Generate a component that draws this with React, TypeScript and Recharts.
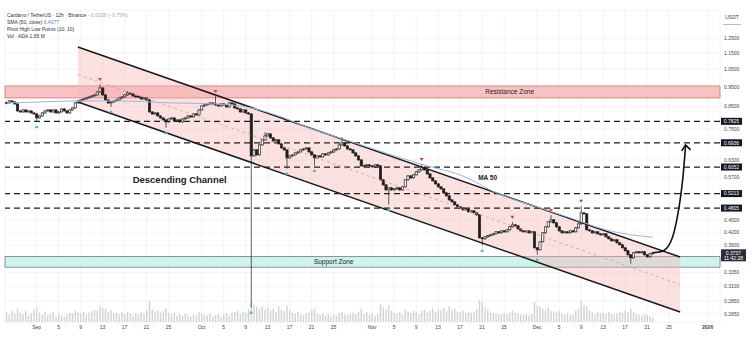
import React from 'react';
import {
  ComposedChart,
  Bar,
  Line,
  Area,
  XAxis,
  YAxis,
  CartesianGrid,
  ReferenceLine,
  ReferenceArea,
  ReferenceDot,
} from 'recharts';

// 12h candles, row 0 = Aug 26 12:00, rows run on to Jan 3 so the right side has room
const ROWS = 260;
const firstOpen = 0.87;

const closes = [
  0.8677, 0.8775, 0.8726, 0.8629, 0.8296, 0.825, 0.8343, 0.825, 0.8296, 0.8203,
  0.8157, 0.7976, 0.8066, 0.8203, 0.8296, 0.8343, 0.825, 0.8343, 0.8203, 0.825,
  0.839, 0.8296, 0.8203, 0.8343, 0.8437, 0.8677, 0.8775, 0.8825, 0.8874, 0.8924,
  0.8974, 0.9025, 0.9076, 0.923, 0.944, 0.9076, 0.8825, 0.8677, 0.8726, 0.8775,
  0.8825, 0.8924, 0.8974, 0.9076, 0.9178, 0.9127, 0.9025, 0.901, 0.8974, 0.8874,
  0.8924, 0.8825, 0.825, 0.8157, 0.8203, 0.8066, 0.7976, 0.7887, 0.7799, 0.7931,
  0.7976, 0.7843, 0.7887, 0.7799, 0.7931, 0.7976, 0.8066, 0.8021, 0.8157, 0.8112,
  0.8343, 0.8532, 0.858, 0.8629, 0.8677, 0.8629, 0.858, 0.8532, 0.8629, 0.858,
  0.8484, 0.8677, 0.8629, 0.8437, 0.839, 0.825, 0.8343, 0.8203, 0.8157, 0.6443,
  0.6664, 0.648, 0.6854, 0.7049, 0.7209, 0.7291, 0.7129, 0.701, 0.7049, 0.6892,
  0.6739, 0.6664, 0.6371, 0.6443, 0.648, 0.6552, 0.6589, 0.6664, 0.6701, 0.6739,
  0.6589, 0.648, 0.6371, 0.6443, 0.6407, 0.6516, 0.648, 0.6552, 0.6589, 0.6664,
  0.6701, 0.6854, 0.6931, 0.6815, 0.6701, 0.6664, 0.6552, 0.6443, 0.63, 0.6092,
  0.611, 0.6126, 0.6092, 0.6058, 0.6126, 0.6092, 0.5631, 0.5475, 0.5323, 0.5384,
  0.5323, 0.5353, 0.5384, 0.5323, 0.5414, 0.5631, 0.5759, 0.5694, 0.5791, 0.589,
  0.5956, 0.6024, 0.5956, 0.5824, 0.5694, 0.5599, 0.5506, 0.5414, 0.5353, 0.5234,
  0.5147, 0.5032, 0.4976, 0.4893, 0.4838, 0.4811, 0.4758, 0.4784, 0.4705, 0.4731,
  0.4678, 0.4626, 0.4066, 0.4043, 0.4088, 0.4112, 0.4135, 0.4158, 0.4205, 0.4181,
  0.4228, 0.4205, 0.4252, 0.4324, 0.4373, 0.4349, 0.4276, 0.4228, 0.4205, 0.4228,
  0.4181, 0.4205, 0.3844, 0.3801, 0.3975, 0.4181, 0.4324, 0.4448, 0.4498, 0.4423,
  0.4324, 0.4228, 0.4181, 0.4205, 0.4181, 0.4228, 0.4205, 0.43, 0.4398, 0.4678,
  0.4652, 0.4252, 0.4228, 0.4181, 0.4205, 0.4158, 0.4135, 0.4158, 0.4088, 0.4043,
  0.3998, 0.402, 0.3953, 0.3909, 0.3844, 0.378, 0.3695, 0.3634, 0.3738, 0.3759,
  0.3738, 0.3759, 0.3695, 0.3654, 0.3717, 0.3737,
];

// volume, million ADA
const volumes = [
  95, 70, 110, 80, 130, 90, 75, 105, 60, 85,
  120, 140, 90, 70, 100, 65, 80, 95, 55, 75,
  60, 50, 70, 90, 85, 110, 95, 80, 100, 70,
  90, 105, 120, 110, 150, 135, 125, 95, 110, 85,
  90, 70, 95, 75, 100, 80, 60, 85, 70, 95,
  75, 110, 200, 120, 100, 115, 90, 105, 130, 85,
  70, 90, 60, 75, 55, 80, 65, 50, 70, 60,
  95, 85, 70, 60, 80, 55, 65, 75, 50, 70,
  85, 60, 90, 95, 110, 80, 100, 90, 120, 190,
  170, 150, 130, 150, 120, 140, 110, 130, 95, 150,
  120, 105, 160, 115, 90, 80, 100, 75, 65, 85,
  95, 110, 130, 80, 70, 85, 60, 75, 55, 70,
  60, 85, 95, 70, 65, 80, 90, 75, 100, 130,
  80, 95, 70, 85, 60, 75, 170, 140, 120, 160,
  110, 90, 80, 95, 70, 120, 100, 85, 110, 95,
  80, 105, 120, 90, 110, 130, 100, 120, 115, 140,
  105, 150, 115, 130, 100, 95, 110, 85, 100, 90,
  95, 120, 210, 190, 140, 120, 100, 90, 80, 75,
  70, 85, 75, 95, 110, 90, 80, 70, 65, 75,
  60, 80, 190, 160, 150, 130, 120, 140, 110, 100,
  90, 105, 80, 70, 85, 60, 75, 110, 130, 200,
  160, 150, 110, 95, 80, 100, 85, 90, 75, 95,
  80, 70, 85, 100, 90, 110, 95, 130, 100, 80,
  70, 60, 75, 65, 55, 40,
];

// wicks that stick out past the body
const wickHigh: Record<number, number> = {
  34: 0.96, 44: 0.923, 76: 0.8974, 94: 0.7332, 122: 0.7129,
  151: 0.6126, 184: 0.4423, 198: 0.46, 209: 0.4838,
};
const wickLow: Record<number, number> = {
  11: 0.7843, 38: 0.8532, 58: 0.7583, 89: 0.276, 102: 0.6024,
  112: 0.6126, 139: 0.492, 173: 0.3909, 193: 0.3717, 227: 0.3533,
};

const pivotHighIdx = [34, 76, 151, 184, 198, 209];
const pivotLowIdx = [11, 38, 58, 89, 102, 112, 139, 173, 193];

// SMA 50
const maPoints: Record<number, number> = {
  0: 0.8677, 12: 0.8726, 26: 0.8775, 41: 0.8775, 60: 0.8677, 76: 0.8629,
  89: 0.8437, 101: 0.7976, 110: 0.754, 120: 0.7169, 129: 0.6854, 140: 0.648,
  153: 0.6092, 165: 0.5791, 179: 0.5205, 194: 0.4811, 205: 0.4549, 218: 0.4252,
  235: 0.4077,
};

const channelUpper: Record<number, number> = { 26: 1.188, 245: 0.365 };
const channelLower: Record<number, number> = { 26: 0.872, 245: 0.268 };
const channelMid: Record<number, number> = { 26: 1.0178, 245: 0.3128 };

const arrowPath: Record<number, number> = {
  235: 0.3737, 238: 0.3759, 241: 0.3909, 243: 0.4252, 245: 0.5032, 246: 0.5694, 247: 0.6854,
};

const levels = [0.7825, 0.6936, 0.6052, 0.5213, 0.4805];
const resistance = [0.8926, 0.9546];
const support = [0.3446, 0.366];
const lastPrice = 0.3737;
const lastTime = '11:42:28';

const priceTicks = [1.25, 1.15, 1.05, 0.95, 0.85, 0.75, 0.63, 0.57, 0.45, 0.42, 0.39, 0.335, 0.31, 0.285, 0.265];
const dateTickIdx = [11, 19, 27, 35, 43, 51, 59, 71, 79, 87, 95, 103, 111, 119, 133, 141, 149, 157, 165, 173, 181, 193, 201, 209, 217, 225, 233, 241, 255];
const dateTickText = ['Sep', '5', '9', '13', '17', '21', '25', 'Oct', '5', '9', '13', '17', '21', '25', 'Nov', '5', '9', '13', '17', '21', '25', 'Dec', '5', '9', '13', '17', '21', '25', '2026'];

const data = Array.from({ length: ROWS }, (_, i) => {
  const row: any = { i };
  if (i < closes.length) {
    const o = i === 0 ? firstOpen : closes[i - 1];
    const c = closes[i];
    row.o = o;
    row.c = c;
    row.h = wickHigh[i] ?? Math.max(o, c);
    row.l = wickLow[i] ?? Math.min(o, c);
    row.v = volumes[i];
    if (pivotHighIdx.includes(i)) row.ph = row.h;
    if (pivotLowIdx.includes(i)) row.pl = row.l;
  }
  if (maPoints[i] != null) row.ma = maPoints[i];
  if (channelUpper[i] != null) {
    row.chU = channelUpper[i];
    row.chL = channelLower[i];
    row.chM = channelMid[i];
    row.band = [channelLower[i], channelUpper[i]];
  }
  if (arrowPath[i] != null) row.arrow = arrowPath[i];
  return row;
});

const INK = '#1e1e1e';

const Candle = (props: any) => {
  const { x, y, width, height, payload } = props;
  if (!payload || payload.c == null || !isFinite(y) || !isFinite(height)) return <g />;
  const { o, h, l, c } = payload;
  const top = Math.min(y, y + height);
  const bot = Math.max(y, y + height);
  const span = Math.log(h) - Math.log(l);
  const py = (v: number) => (span === 0 ? top : top + ((bot - top) * (Math.log(h) - Math.log(v))) / span);
  const cx = x + width / 2;
  const yo = py(o);
  const yc = py(c);
  const bt = Math.min(yo, yc);
  const bh = Math.max(Math.abs(yo - yc), 1);
  const up = c >= o;
  return (
    <g>
      <line x1={cx} x2={cx} y1={top - 0.8} y2={Math.max(bot, bt + bh) + 0.8} stroke={INK} strokeWidth={0.7} />
      <rect x={cx - 1.1} y={bt} width={2.2} height={bh} fill={up ? '#fff' : INK} stroke={INK} strokeWidth={0.7} />
    </g>
  );
};

const VolBar = (props: any) => {
  const { x, y, width, height, payload } = props;
  if (!payload || payload.v == null || !isFinite(height)) return <g />;
  return <rect x={x + width / 2 - 0.7} y={y} width={1.4} height={height} fill="#d2d2d2" />;
};

const PivotHigh = (props: any) => {
  const { cx, cy, value, index } = props;
  if (value == null || cy == null || !isFinite(cy)) return <g key={`ph${index}`} />;
  const t = cy - 4;
  return <path key={`ph${index}`} d={`M${cx - 2} ${t - 3} L${cx + 2} ${t - 3} L${cx} ${t} Z`} fill="#e53935" />;
};

const PivotLow = (props: any) => {
  const { cx, cy, value, index } = props;
  if (value == null || cy == null || !isFinite(cy)) return <g key={`pl${index}`} />;
  const t = cy + 4;
  return <path key={`pl${index}`} d={`M${cx - 2} ${t + 3} L${cx + 2} ${t + 3} L${cx} ${t} Z`} fill="#3cc2a6" />;
};

const ArrowHead = (props: any) => {
  const { cx, cy, index } = props;
  if (index !== 247 || cy == null) return <g key={`ah${index}`} />;
  return (
    <path
      key={`ah${index}`}
      d={`M${cx - 4} ${cy + 6} L${cx} ${cy} L${cx + 5} ${cy + 5}`}
      stroke="#111"
      strokeWidth={1.6}
      fill="none"
    />
  );
};

const LevelTag = ({ viewBox, text }: any) => {
  if (!viewBox) return null;
  const x = viewBox.x + viewBox.width + 1;
  const y = viewBox.y;
  return (
    <g>
      <rect x={x} y={y - 3.5} width={21} height={7} fill="#131722" />
      <text x={x + 10.5} y={y + 1.8} textAnchor="middle" fontSize={5} fill="#fff">
        {text}
      </text>
    </g>
  );
};

const PriceTag = ({ viewBox }: any) => {
  if (!viewBox) return null;
  const x = viewBox.x + viewBox.width + 1;
  const y = viewBox.y;
  return (
    <g>
      <rect x={x} y={y - 3.5} width={25} height={12} fill="#2a2e39" />
      <text x={x + 12.5} y={y + 1.8} textAnchor="middle" fontSize={5} fill="#fff">
        {lastPrice.toFixed(4)}
      </text>
      <text x={x + 12.5} y={y + 7.2} textAnchor="middle" fontSize={5} fill="#fff">
        {lastTime}
      </text>
    </g>
  );
};

const Ann = ({ viewBox, text, size, bold }: any) => {
  if (!viewBox) return null;
  return (
    <text
      x={viewBox.x + viewBox.width / 2}
      y={viewBox.y + viewBox.height / 2}
      dy="0.35em"
      textAnchor="middle"
      fontSize={size}
      fontWeight={bold ? 700 : 400}
      fill="#222"
    >
      {text}
    </text>
  );
};

const DateTick = ({ x, y, payload }: any) => {
  const label = dateTickText[dateTickIdx.indexOf(payload.value)];
  return (
    <text x={x} y={y + 7} textAnchor="middle" fontSize={5} fill="#444" fontWeight={label === '2026' ? 700 : 400}>
      {label}
    </text>
  );
};

export default function App() {
  return (
    <div
      style={{
        position: 'relative',
        width: 752,
        height: 358,
        background: '#fff',
        fontFamily: '"Liberation Sans", Arial, sans-serif',
      }}
    >
      <style>{'body{margin:0}'}</style>
      <ComposedChart
        width={752}
        height={358}
        data={data}
        margin={{ top: 10, right: 0, left: 5, bottom: 24 }}
        barCategoryGap={0}
        barGap={0}
      >
        <CartesianGrid xAxisId="p" yAxisId="p" stroke="#f1f1f1" strokeWidth={0.8} />
        <XAxis
          xAxisId="p"
          dataKey="i"
          type="category"
          ticks={dateTickIdx}
          interval={0}
          tick={<DateTick />}
          tickLine={false}
          axisLine={false}
          tickSize={0}
          tickMargin={0}
          height={12}
        />
        <XAxis xAxisId="v" dataKey="i" type="category" hide />
        <YAxis
          yAxisId="p"
          orientation="right"
          scale="log"
          domain={[0.2533, 1.463]}
          allowDataOverflow
          ticks={priceTicks}
          interval={0}
          tickFormatter={(v: number) => v.toFixed(4)}
          tick={{ fontSize: 5, fill: '#444', textAnchor: 'start' }}
          tickLine={false}
          axisLine={false}
          tickSize={0}
          tickMargin={4}
          width={32}
        />
        <YAxis yAxisId="v" hide domain={[0, 3000]} />

        <ReferenceArea
          xAxisId="p"
          yAxisId="p"
          y1={resistance[0]}
          y2={resistance[1]}
          fill="#f7c2c2"
          fillOpacity={1}
          stroke="#e06b6b"
          strokeWidth={0.8}
        />
        <ReferenceArea
          xAxisId="p"
          yAxisId="p"
          y1={support[0]}
          y2={support[1]}
          fill="#cdf3ee"
          fillOpacity={1}
          stroke="#777"
          strokeWidth={0.8}
        />

        <Area
          xAxisId="p"
          yAxisId="p"
          dataKey="band"
          type="linear"
          connectNulls
          stroke="none"
          fill="#f8b4b4"
          fillOpacity={0.4}
          isAnimationActive={false}
          dot={false}
          activeDot={false}
        />

        {levels.map((lv) => (
          <ReferenceLine
            key={lv}
            xAxisId="p"
            yAxisId="p"
            y={lv}
            stroke={INK}
            strokeWidth={1.3}
            strokeDasharray="6 4"
            label={<LevelTag text={lv.toFixed(4)} />}
          />
        ))}
        <ReferenceLine xAxisId="p" yAxisId="p" y={lastPrice} stroke="none" label={<PriceTag />} />

        <Line xAxisId="p" yAxisId="p" dataKey="chM" type="linear" connectNulls stroke="#d49a9a" strokeWidth={0.8} strokeDasharray="3 3" dot={false} activeDot={false} isAnimationActive={false} />
        <Line xAxisId="p" yAxisId="p" dataKey="chU" type="linear" connectNulls stroke="#1a1a1a" strokeWidth={1.5} dot={false} activeDot={false} isAnimationActive={false} />
        <Line xAxisId="p" yAxisId="p" dataKey="chL" type="linear" connectNulls stroke="#1a1a1a" strokeWidth={1.5} dot={false} activeDot={false} isAnimationActive={false} />

        <Bar xAxisId="v" yAxisId="v" dataKey="v" shape={<VolBar />} isAnimationActive={false} />
        <Line xAxisId="p" yAxisId="p" dataKey="ma" type="monotone" connectNulls stroke="#9fb5dc" strokeWidth={1} dot={false} activeDot={false} isAnimationActive={false} />
        <Bar
          xAxisId="p"
          yAxisId="p"
          dataKey={(d: any) => (d.c == null ? null : [d.l, d.h])}
          shape={<Candle />}
          isAnimationActive={false}
        />

        <Line xAxisId="p" yAxisId="p" dataKey="ph" stroke="none" dot={PivotHigh} activeDot={false} isAnimationActive={false} />
        <Line xAxisId="p" yAxisId="p" dataKey="pl" stroke="none" dot={PivotLow} activeDot={false} isAnimationActive={false} />
        <Line xAxisId="p" yAxisId="p" dataKey="arrow" type="monotone" connectNulls stroke="#111" strokeWidth={1.6} dot={ArrowHead} activeDot={false} isAnimationActive={false} />

        <ReferenceDot xAxisId="p" yAxisId="p" x={183} y={0.923} r={1} fillOpacity={0} stroke="none" label={<Ann text="Resistance Zone" size={6.5} />} />
        <ReferenceDot xAxisId="p" yAxisId="p" x={119} y={0.3551} r={1} fillOpacity={0} stroke="none" label={<Ann text="Support Zone" size={6.5} />} />
        <ReferenceDot xAxisId="p" yAxisId="p" x={63} y={0.5631} r={1} fillOpacity={0} stroke="none" label={<Ann text="Descending Channel" size={9.5} bold />} />
        <ReferenceDot xAxisId="p" yAxisId="p" x={175} y={0.5694} r={1} fillOpacity={0} stroke="none" label={<Ann text="MA 50" size={6.5} bold />} />
      </ComposedChart>

      <div style={{ position: 'absolute', left: 7, top: 12, fontSize: 5, lineHeight: '7px', color: '#333', whiteSpace: 'nowrap' }}>
        <div>
          Cardano / TetherUS · 12h · Binance <span style={{ color: '#aaa' }}>−0.0028 (−0.75%)</span>
        </div>
        <div>
          SMA (50, close) <span style={{ color: '#4a7fd4' }}>0.4077</span>
        </div>
        <div>Pivot High Low Points (10, 10)</div>
        <div>Vol · ADA 1.65 M</div>
      </div>
      <div
        style={{
          position: 'absolute',
          left: 723,
          top: 14,
          width: 18,
          fontSize: 5,
          lineHeight: '7px',
          color: '#444',
          textAlign: 'center',
          borderBottom: '1px solid #bbb',
          paddingBottom: 3,
        }}
      >
        USDT
      </div>
    </div>
  );
}
